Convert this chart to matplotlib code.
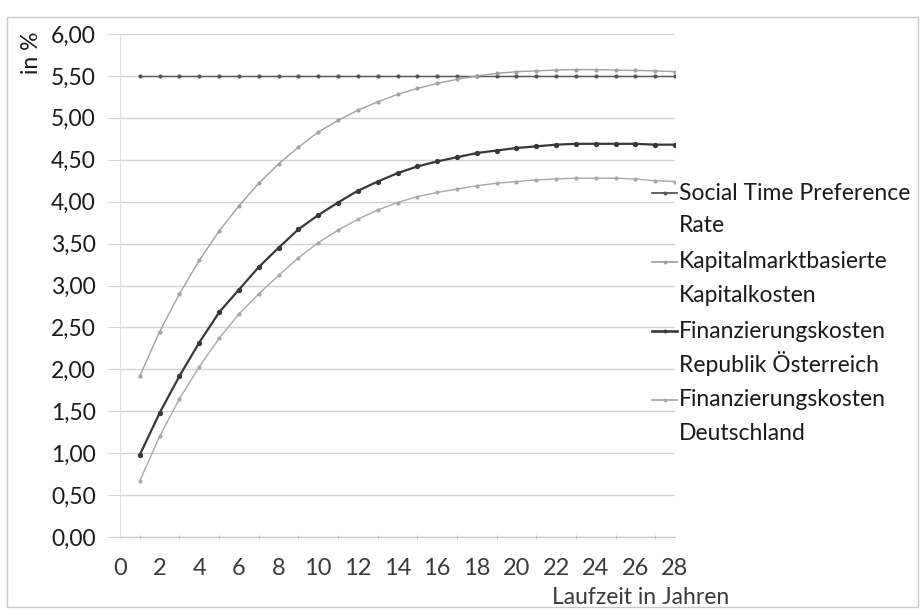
import matplotlib.pyplot as plt
from matplotlib.lines import Line2D
from matplotlib.patches import Rectangle
from matplotlib.ticker import FuncFormatter, MultipleLocator

plt.rcParams['font.family'] = ['Lato', 'DejaVu Sans']

laufzeit = list(range(1, 29))
stpr = [5.50] * 28
kapitalmarkt = [1.92, 2.45, 2.90, 3.30, 3.65, 3.95, 4.22, 4.45, 4.65, 4.83,
                4.97, 5.09, 5.19, 5.28, 5.35, 5.41, 5.46, 5.50, 5.53, 5.55,
                5.56, 5.57, 5.575, 5.575, 5.57, 5.565, 5.56, 5.55]
oesterreich = [0.98, 1.48, 1.92, 2.32, 2.68, 2.95, 3.22, 3.45, 3.67, 3.84,
               3.99, 4.13, 4.24, 4.34, 4.42, 4.48, 4.53, 4.58, 4.61, 4.64,
               4.66, 4.68, 4.69, 4.69, 4.69, 4.69, 4.68, 4.68]
deutschland = [0.67, 1.20, 1.65, 2.03, 2.37, 2.66, 2.90, 3.12, 3.33, 3.51,
               3.66, 3.79, 3.90, 3.99, 4.06, 4.11, 4.15, 4.19, 4.22, 4.24,
               4.26, 4.27, 4.28, 4.28, 4.28, 4.27, 4.25, 4.24]

labels = [("Social Time Preference", "Rate"),
          ("Kapitalmarktbasierte", "Kapitalkosten"),
          ("Finanzierungskosten", "Republik Österreich"),
          ("Finanzierungskosten", "Deutschland")]
series = [stpr, kapitalmarkt, oesterreich, deutschland]
colors = ["#555555", "#a0a0a0", "#383838", "#a8a8a8"]
widths = [1.0, 1.0, 1.6, 1.0]
msizes = [2.0, 2.0, 2.8, 2.0]

W, H = 924, 612
fig = plt.figure(figsize=(9.24, 6.12), dpi=100)
ax = fig.add_axes([120 / W, 1 - 537 / H, 555 / W, 503 / H])

for ys, c, lw, ms in zip(series, colors, widths, msizes):
    ax.plot(laufzeit, ys, color=c, lw=lw, marker='o', ms=ms)

ax.set_xlim(0, 28)
ax.set_ylim(0, 6)
ax.xaxis.set_major_locator(MultipleLocator(2))
ax.xaxis.set_minor_locator(MultipleLocator(1))
ax.yaxis.set_major_locator(MultipleLocator(0.5))
ax.yaxis.set_major_formatter(FuncFormatter(lambda v, p: f"{v:.2f}".replace('.', ',')))

ax.grid(axis='y', color="#d2d2d2", lw=1.0)
ax.set_axisbelow(True)
for s in ['top', 'right']:
    ax.spines[s].set_visible(False)
ax.spines['left'].set_color("#e0e0e0")
ax.spines['bottom'].set_color("#c8c8c8")
ax.tick_params(axis='y', length=8.5, color="#d2d2d2", labelsize=16.5, labelcolor="#1a1a1a", pad=9)
ax.tick_params(axis='x', which='major', length=0, labelsize=17, labelcolor="#3a3a3a", pad=15)
ax.tick_params(axis='x', which='minor', length=3, color="#b5b5b5", direction='inout')

# legend on the right, handle next to the first line of each label
for i, ((l1, l2), c, lw) in enumerate(zip(labels, colors, widths)):
    y = 193 + i * 69
    fig.add_artist(Line2D([652 / W, 677 / W], [1 - y / H, 1 - y / H], color=c,
                          lw=lw + 0.3, transform=fig.transFigure))
    fig.add_artist(Line2D([664.5 / W], [1 - y / H], color=c, marker='o', ms=1.8,
                          transform=fig.transFigure))
    fig.text(679 / W, 1 - y / H, l1, va='center', ha='left', fontsize=16.5, color="#1a1a1a")
    fig.text(679 / W, 1 - (y + 33) / H, l2, va='center', ha='left', fontsize=16.5, color="#1a1a1a")

fig.text(31 / W, 1 - 31 / H, "in %", rotation=90, va='top', ha='center',
         fontsize=16.5, color="#1a1a1a")
fig.text(641 / W, 1 - 597 / H, "Laufzeit in Jahren", ha='center', va='center',
         fontsize=16.5, color="#3a3a3a")

fig.patches.append(Rectangle((7 / W, 1 - 607 / H), 911 / W, 590 / H,
                             transform=fig.transFigure, fill=False,
                             edgecolor="#c8c8c8", lw=1.0))

fig.savefig("out.png", dpi=100)
